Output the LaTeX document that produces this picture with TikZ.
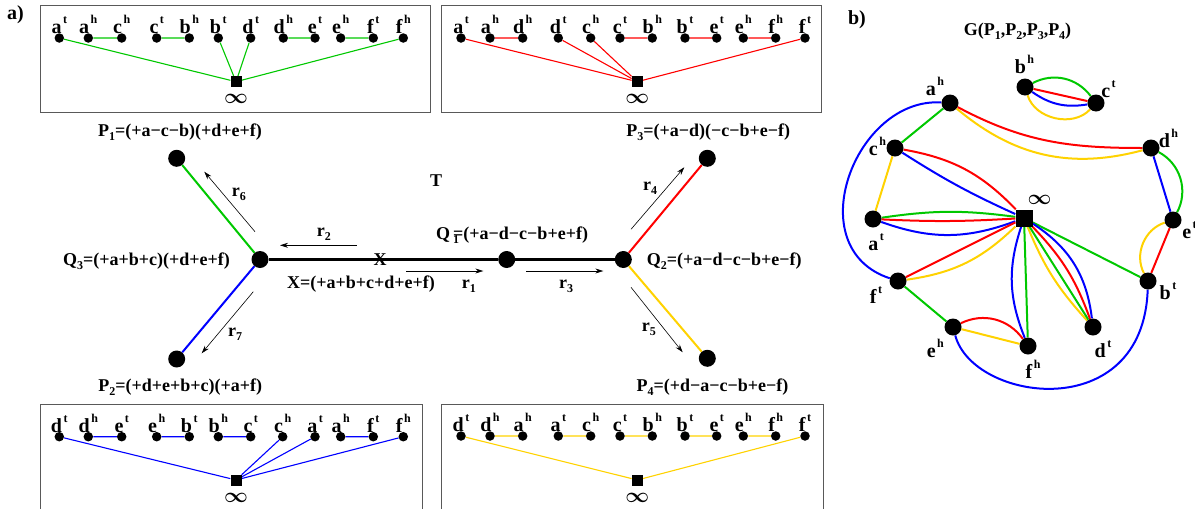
\documentclass[tikz,border=0pt]{standalone}
\usepackage{fontspec}
\setmainfont{Liberation Serif}
\usetikzlibrary{arrows.meta,backgrounds}
\definecolor{pgreen}{RGB}{0,200,0}
\definecolor{pred}{RGB}{255,0,0}
\definecolor{pblue}{RGB}{0,0,255}
\definecolor{pyel}{RGB}{255,210,0}
\newcommand\hsup[1]{\kern1.5pt\raisebox{10pt}{\fontsize{12}{12}\selectfont\bfseries #1}}
\newcommand\hsub[1]{\raisebox{-4pt}{\fontsize{12}{12}\selectfont\bfseries #1}}
\newcommand\infsym{{\fontsize{22}{22}\selectfont\boldmath$\infty$}}
\tikzset{
 dot/.style={circle,fill=black,draw=none,inner sep=0pt,minimum size=9.5pt},
 bigdot/.style={circle,fill=black,draw=none,inner sep=0pt,minimum size=17pt},
 sq/.style={rectangle,fill=black,draw=none,inner sep=0pt,minimum size=11pt},
 bigsq/.style={rectangle,fill=black,draw=none,inner sep=0pt,minimum size=17pt},
 vlab/.style={anchor=base,inner sep=0pt,font=\bfseries\fontsize{20}{22}\selectfont},
 txt/.style={inner sep=0pt,font=\bfseries\fontsize{18}{20}\selectfont},
 inflab/.style={inner sep=0pt},
 boxedge/.style={line width=1.1pt},
 ge/.style={line width=2pt},
 tree/.style={line width=2pt},
 trunk/.style={line width=2.7pt,black},
 arr/.style={line width=0.6pt,-{Stealth[length=8pt,width=5pt]}},
 frame/.style={draw=black!65,line width=1pt}
}
\begin{document}
\begin{tikzpicture}[x=1pt,y=1pt]
\useasboundingbox (0,0) rectangle (1195,-509);
% panel labels
\node[txt,anchor=base,font=\bfseries\fontsize{20}{22}\selectfont] (pa) at (15.5,-19) {a)};
\node[txt,anchor=base,font=\bfseries\fontsize{20}{22}\selectfont] (pb) at (857,-24) {b)};
% frames
\draw[frame] (40,-5) rectangle (430,-112);
\draw[frame] (441.7,-5) rectangle (821.7,-112);
\draw[frame] (40,-404) rectangle (422.7,-530);
\draw[frame] (441.7,-404) rectangle (823.3,-530);
% ---- box A (P1, green)
\foreach \x/\l/\s [count=\i] in {59.3/a/t,88.3/a/h,121.7/c/h,156.7/c/t,189.3/b/h,218.3/b/t,250.7/d/t,283.3/d/h,315/e/t,340.7/e/h,373.3/f/t,403.3/f/h}{
  \node[dot] (A\i) at (\x,-38) {};
  \node[vlab] (A\i L) at (\x,-33.5) {\l\hsup{\s}};
}
\node[sq] (Ainf) at (236,-81.7) {};
\node[inflab] (AinfL) at (236,-99) {\infsym};
% ---- box B (P3, red)
\foreach \x/\l/\s [count=\i] in {461/a/t,490/a/h,522.7/d/h,558.3/d/t,590.7/c/h,620/c/t,652.3/b/h,685/b/t,716.7/e/t,743.3/e/h,775.7/f/h,805/f/t}{
  \node[dot] (B\i) at (\x,-38) {};
  \node[vlab] (B\i L) at (\x,-33.5) {\l\hsup{\s}};
}
\node[sq] (Binf) at (637.3,-81.7) {};
\node[inflab] (BinfL) at (637.3,-99) {\infsym};
% ---- box C (P2, blue)
\foreach \x/\l/\s [count=\i] in {59.3/d/t,88.3/d/h,121.7/e/t,156.7/e/h,189.3/b/t,218.3/b/h,250.7/c/t,282.7/c/h,315/a/t,340.7/a/h,373.3/f/t,403.3/f/h}{
  \node[dot] (C\i) at (\x,-436.7) {};
  \node[vlab] (C\i L) at (\x,-432.2) {\l\hsup{\s}};
}
\node[sq] (Cinf) at (236,-480) {};
\node[inflab] (CinfL) at (236,-498) {\infsym};
% ---- box D (P4, yellow)
\foreach \x/\l/\s [count=\i] in {461/d/t,490/d/h,522.7/a/h,558.3/a/t,590.7/c/h,620/c/t,652.3/b/h,685/b/t,716.7/e/t,743.3/e/h,775.7/f/h,805/f/t}{
  \node[dot] (D\i) at (\x,-436) {};
  \node[vlab] (D\i L) at (\x,-431.5) {\l\hsup{\s}};
}
\node[sq] (Dinf) at (637.3,-480) {};
\node[inflab] (DinfL) at (637.3,-498) {\infsym};
% ---- tree T
\node[bigdot] (P1) at (176.7,-158.3) {};
\node[bigdot] (Q3) at (260,-259.5) {};
\node[bigdot] (P2) at (176.7,-359) {};
\node[bigdot] (Q1) at (506.7,-259.5) {};
\node[bigdot] (Q2) at (623.3,-259.5) {};
\node[bigdot] (P3) at (707.3,-158.3) {};
\node[bigdot] (P4) at (707.3,-358.3) {};
\node[txt,anchor=base] (fP1) at (180,-136.7) {P\hsub{1}=(+a−c−b)(+d+e+f)};
\node[txt,anchor=base east] (fQ3) at (230,-265) {Q\hsub{3}=(+a+b+c)(+d+e+f)};
\node[txt,anchor=base] (fX) at (361,-288.3) {X=(+a+b+c+d+e+f)};
\node[txt,anchor=base] (fP2) at (180.3,-391.7) {P\hsub{2}=(+d+e+b+c)(+a+f)};
\node[txt,anchor=base] (fP3) at (708.3,-136.7) {P\hsub{3}=(+a−d)(−c−b+e−f)};
\node[txt,anchor=base west] (fQ1) at (436,-239) {Q\kern3pt\hsub{1}\kern-6pt=(+a−d−c−b+e+f)};
\node[txt,anchor=base west] (fQ2) at (646.7,-265) {Q\hsub{2}=(+a−d−c−b+e−f)};
\node[txt,anchor=base] (fP4) at (712.5,-391.7) {P\hsub{4}=(+d−a−c−b+e−f)};
\node[txt,anchor=base] (T) at (436,-186.7) {T};
\node[txt,anchor=base] (Xl) at (380,-265) {X};
% arrows
\coordinate (r2s) at (356.7,-245.3); \coordinate (r2e) at (280,-245.3);
\coordinate (r1s) at (406,-271);     \coordinate (r1e) at (483.3,-271);
\coordinate (r3s) at (526,-271);     \coordinate (r3e) at (603.3,-271);
\coordinate (r6s) at (255,-231.7);   \coordinate (r6e) at (204.3,-171.7);
\coordinate (r7s) at (253.3,-291.7); \coordinate (r7e) at (201.7,-353.3);
\coordinate (r4s) at (631,-229.3);   \coordinate (r4e) at (684.3,-167.3);
\coordinate (r5s) at (631,-287.3);   \coordinate (r5e) at (682.7,-352.3);
\foreach \k in {1,...,7}{\draw[arr] (r\k s) -- (r\k e);}
\node[txt,anchor=base west] (lr6) at (231.7,-196.7) {r\hsub{6}};
\node[txt,anchor=base west] (lr2) at (316.7,-236.7) {r\hsub{2}};
\node[txt,anchor=base west] (lr7) at (228,-336.7) {r\hsub{7}};
\node[txt,anchor=base west] (lr1) at (461.7,-288.3) {r\hsub{1}};
\node[txt,anchor=base west] (lr3) at (559,-288.3) {r\hsub{3}};
\node[txt,anchor=base west] (lr4) at (643,-190) {r\hsub{4}};
\node[txt,anchor=base west] (lr5) at (641.7,-331.7) {r\hsub{5}};
% ---- graph G
\node[txt,anchor=base] (G) at (1017.5,-35) {G(P\hsub{1},P\hsub{2},P\hsub{3},P\hsub{4})};
\node[bigdot] (ah) at (950,-103) {};
\node[bigdot] (bh) at (1025,-87) {};
\node[bigdot] (ct) at (1096,-103) {};
\node[bigdot] (ch) at (895,-148) {};
\node[bigdot] (dh) at (1151,-148) {};
\node[bigsq]  (inf) at (1024,-218) {};
\node[bigdot] (at) at (873,-219) {};
\node[bigdot] (et) at (1173,-220) {};
\node[bigdot] (ft) at (898,-281) {};
\node[bigdot] (bt) at (1148,-281) {};
\node[bigdot] (eh) at (953,-327) {};
\node[bigdot] (fh) at (1028,-346) {};
\node[bigdot] (dt) at (1093,-327) {};
\node[inflab] (infL) at (1039.5,-200) {\infsym};
\node[vlab] (ahL) at (935,-95) {a\hsup{h}};
\node[vlab] (bhL) at (1024.5,-73) {b\hsup{h}};
\node[vlab] (ctL) at (1108.5,-97) {c\hsup{t}};
\node[vlab] (chL) at (877.5,-155) {c\hsup{h}};
\node[vlab] (dhL) at (1168.5,-147) {d\hsup{h}};
\node[vlab] (atL) at (876,-250) {a\hsup{t}};
\node[vlab] (etL) at (1189.5,-238) {e\hsup{t}};
\node[vlab] (ftL) at (876,-303) {f\hsup{t}};
\node[vlab] (btL) at (1168,-299) {b\hsup{t}};
\node[vlab] (ehL) at (935.3,-357) {e\hsup{h}};
\node[vlab] (fhL) at (1033,-378) {f\hsup{h}};
\node[vlab] (dtL) at (1103,-357) {d\hsup{t}};
% ---- edges on background
\begin{scope}[on background layer]
\draw[boxedge,pgreen] (A1)--(Ainf) (A2)--(A3) (A4)--(A5) (A6)--(Ainf) (A7)--(Ainf) (A8)--(A9) (A10)--(A11) (A12)--(Ainf);
\draw[boxedge,pred] (B1)--(Binf) (B2)--(B3) (B4)--(Binf) (B5)--(Binf) (B6)--(B7) (B8)--(B9) (B10)--(B11) (B12)--(Binf);
\draw[boxedge,pblue] (C1)--(Cinf) (C2)--(C3) (C4)--(C5) (C6)--(C7) (C8)--(Cinf) (C9)--(Cinf) (C10)--(C11) (C12)--(Cinf);
\draw[boxedge,pyel] (D1)--(Dinf) (D2)--(D3) (D4)--(D5) (D6)--(D7) (D8)--(D9) (D10)--(D11) (D12)--(Dinf);
\draw[trunk] (Q3) -- (Q1) -- (Q2);
\draw[tree,pgreen] (Q3) -- (P1);
\draw[tree,pblue] (Q3) -- (P2);
\draw[tree,pred] (Q2) -- (P3);
\draw[tree,pyel] (Q2) -- (P4);
% graph G
\draw[ge,pgreen] (bh) to[bend left=40] (ct);
\draw[ge,pred] (bh) -- (ct);
\draw[ge,pblue] (bh) to[bend right=22] (ct);
\draw[ge,pyel] (bh) to[bend right=60] (ct);
\draw[ge,pgreen] (ah) -- (ch);
\draw[ge,pred] (ah) to[out=-28,in=180] (dh);
\draw[ge,pyel] (ah) to[out=-40,in=195] (dh);
\draw[ge,pblue] (ah) .. controls +(-95,6) and +(-100,33) .. (ft);
\draw[ge,pyel] (ch) -- (at);
\draw[ge,pred] (ch) to[bend left=18] (inf);
\draw[ge,pblue] (ch) to[bend right=4] (inf);
\draw[ge,pgreen] (at) to[bend left=8] (inf);
\draw[ge,pred] (at) to[bend right=3] (inf);
\draw[ge,pblue] (at) to[bend right=20] (inf);
\draw[ge,pblue] (dh) -- (et);
\draw[ge,pgreen] (dh) to[bend left=45] (et);
\draw[ge,pred] (et) -- (bt);
\draw[ge,pyel] (et) to[bend right=50] (bt);
\draw[ge,pgreen] (bt) -- (inf);
\draw[ge,pred] (ft) -- (inf);
\draw[ge,pyel] (ft) to[bend right=18] (inf);
\draw[ge,pgreen] (ft) -- (eh);
\draw[ge,pyel] (eh) -- (fh);
\draw[ge,pred] (eh) to[bend left=40] (fh);
\draw[ge,pblue] (eh) .. controls +(20,-75) and +(-5,-145) .. (bt);
\draw[ge,pgreen] (fh) -- (inf);
\draw[ge,pblue] (inf) to[bend right=20] (fh);
\draw[ge,pyel] (inf) to[bend right=10] (dt);
\draw[ge,pgreen] (inf) -- (dt);
\draw[ge,pred] (inf) to[bend left=12] (dt);
\draw[ge,pblue] (inf) to[bend left=25] (dt);
\end{scope}
\end{tikzpicture}
\end{document}
